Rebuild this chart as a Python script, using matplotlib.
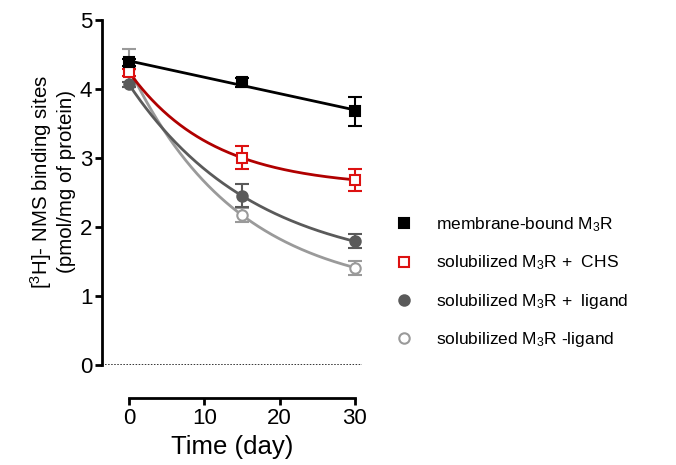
import numpy as np
import matplotlib
matplotlib.use('Agg')
import matplotlib.pyplot as plt

plt.rcParams['font.family'] = ['Liberation Sans', 'DejaVu Sans']
plt.rcParams['mathtext.fontset'] = 'custom'
plt.rcParams['mathtext.rm'] = 'Liberation Sans'
plt.rcParams['mathtext.it'] = 'Liberation Sans:italic'

days = [0, 15, 30]
membrane = [4.38, 4.09, 3.67]
membrane_err = [0.05, 0.07, 0.21]
chs = [4.24, 3.00, 2.68]
chs_err = [0.05, 0.17, 0.16]
ligand = [4.06, 2.45, 1.79]
ligand_err = [0.04, 0.17, 0.10]
no_ligand = [4.30, 2.17, 1.41]
no_ligand_err = [0.28, 0.10, 0.10]

labels = ['membrane-bound M$_3$R', 'solubilized M$_3$R +  CHS',
          'solubilized M$_3$R +  ligand', 'solubilized M$_3$R -ligand']


def decay_curve(t, y):
    # one-phase decay through the three time points
    r = (y[2] - y[1]) / (y[1] - y[0])
    k = -np.log(r) / 15.0
    plateau = y[0] + (y[1] - y[0]) / (1 - r)
    return plateau + (y[0] - plateau) * np.exp(-k * t)


fig = plt.figure(figsize=(6.76, 4.65), dpi=100)
ax = fig.add_axes([0.1509, 0.215, 0.385, 0.743])

t = np.linspace(0, 30, 200)
slope, icept = np.polyfit(days, membrane, 1)

ax.axhline(0, color='black', ls=(0, (1, 1)), lw=1.1)

series = [
    (membrane, membrane_err, icept + slope * t, 'black', 'black', 's', 'black', 'black'),
    (chs, chs_err, decay_curve(t, chs), '#b00000', '#dd1111', 's', 'white', '#dd1111'),
    (ligand, ligand_err, decay_curve(t, ligand), '#5a5a5a', '#5a5a5a', 'o', '#5a5a5a', '#5a5a5a'),
    (no_ligand, no_ligand_err, decay_curve(t, no_ligand), '#9a9a9a', '#9a9a9a', 'o', 'white', '#9a9a9a'),
]

handles = []
for i, ((y, e, curve, lc, mc, mk, fc, ec), lab) in enumerate(zip(series, labels)):
    z = 10 - 2 * i  # first series drawn on top
    ax.plot(t, curve, color=lc, lw=2.0, zorder=z - 1)
    ax.errorbar(days, y, yerr=e, fmt='none', ecolor=mc, elinewidth=1.5,
                capsize=5, capthick=1.5, zorder=z - 1)
    h, = ax.plot(days, y, ls='none', marker=mk, ms=7.5, mfc=fc, mec=ec,
                 mew=1.5, zorder=z, label=lab)
    handles.append(h)

ax.set_xlim(-3.59, 31)
ax.set_ylim(0, 5)
ax.set_xticks([0, 10, 20, 30])
ax.set_yticks([0, 1, 2, 3, 4, 5])

for s in ['top', 'right']:
    ax.spines[s].set_visible(False)
ax.spines['left'].set_linewidth(2)
ax.spines['bottom'].set_linewidth(2)
ax.spines['bottom'].set_bounds(0, 30)
ax.spines['bottom'].set_position(('outward', 24))
ax.tick_params(width=2, length=5, labelsize=16, pad=2)

ax.set_xlabel('Time (day)', fontsize=18.5, labelpad=4)
ax.set_ylabel('[$^3$H]- NMS binding sites\n(pmol/mg of protein)', fontsize=14.8)
ax.yaxis.set_label_coords(-0.1, 0.53)

fig.legend(handles=handles, loc='upper left', bbox_to_anchor=(0.549, 0.57),
           frameon=False, fontsize=12.5, handletextpad=0.83, labelspacing=1.12,
           markerscale=1.0)

fig.savefig('out.png', dpi=100)
